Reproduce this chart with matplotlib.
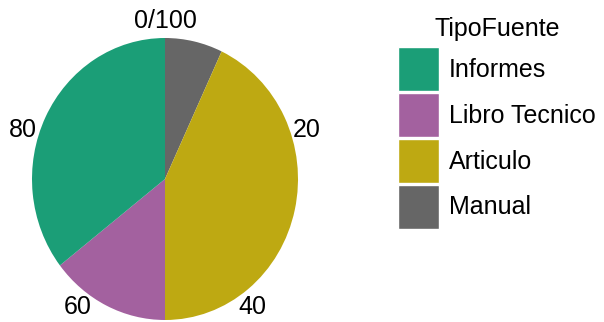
import numpy as np
import matplotlib.pyplot as plt
from matplotlib.patches import Patch

plt.rcParams['font.family'] = ['Liberation Sans', 'DejaVu Sans']

# Datos
tipos = ["Informes", "Libro Tecnico", "Articulo", "Manual"]
porcentajes = [35.5, 14.5, 43.0, 7.0]
colores = ["#1B9E77", "#A3619F", "#BEA912", "#666666"]
marcas = [0, 20, 40, 60, 80]
etiquetas_marcas = ["0/100", "20", "40", "60", "80"]

W, H = 604, 322
fig = plt.figure(figsize=(W / 100, H / 100), dpi=100)
ax = fig.add_axes([32 / W, 2 / H, 266 / W, 282 / H])

# orden de dibujo: empezando arriba, en sentido horario: Manual, Articulo, Libro, Informes
orden = [3, 2, 1, 0]
ax.pie([porcentajes[i] for i in orden], colors=[colores[i] for i in orden],
       startangle=90, counterclock=False, radius=1,
       wedgeprops=dict(linewidth=0))
ax.set_aspect('auto')
ax.set_xlim(-1, 1)
ax.set_ylim(-1, 1)

total = sum(porcentajes)
for m, lab in zip(marcas, etiquetas_marcas):
    ang = np.deg2rad(90 - m / total * 360)
    r = 1.12
    ax.text(r * np.cos(ang), r * np.sin(ang), lab, fontsize=18,
            ha='center', va='center', clip_on=False)

handles = [Patch(facecolor=c, edgecolor='white', linewidth=1) for c in colores]
leg = fig.legend(handles, tipos, title="TipoFuente", fontsize=18, title_fontsize=18,
                 loc='upper left', bbox_to_anchor=(398 / W, 1 - 17 / H),
                 frameon=False, handlelength=1.64, handleheight=2.32,
                 handletextpad=0.4, labelspacing=0.08, borderaxespad=0, borderpad=0)
leg._legend_box.sep = 4.5  # espacio entre titulo y claves

fig.savefig("out.png", dpi=100)
